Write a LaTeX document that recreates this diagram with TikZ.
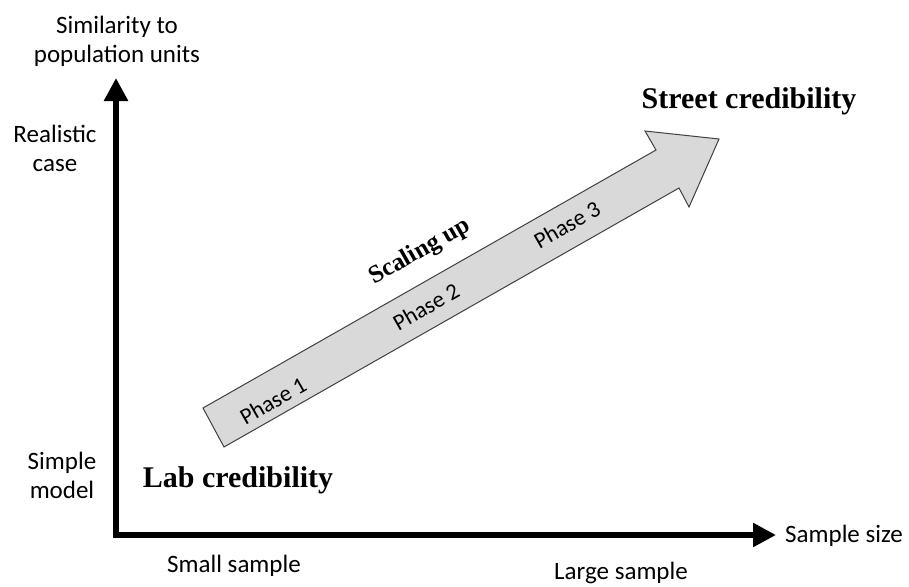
\documentclass[tikz,border=0pt]{standalone}
\usepackage{fontspec}
\setmainfont{Liberation Serif}
\newfontfamily\labelfont{Carlito}
\usetikzlibrary{arrows.meta}
\definecolor{shaftfill}{HTML}{D9D9D9}
\definecolor{shaftline}{HTML}{404040}
\tikzset{
  axis/.style={line width=5.5pt, line join=miter,
    {Triangle[length=23pt,width=23pt]}-{Triangle[length=23pt,width=23pt]}},
  sanslabel/.style={font=\labelfont\fontsize{25}{29}\selectfont, align=center, inner sep=0pt},
  phaselabel/.style={font=\labelfont\fontsize{23}{27}\selectfont, inner sep=0pt, rotate=29.7},
  credlabel/.style={font=\bfseries\fontsize{30}{34}\selectfont, inner sep=0pt},
  scalelabel/.style={font=\bfseries\fontsize{25}{29}\selectfont, inner sep=0pt, rotate=29.7},
  bigarrow/.style={draw=shaftline, line width=1pt, fill=shaftfill, line join=miter}
}
\begin{document}
\begin{tikzpicture}[x=1pt, y=-1pt]
  \useasboundingbox (0,0) rectangle (909,586);

  % axes
  \coordinate (ytop) at (116,78);
  \coordinate (origin) at (116,535);
  \coordinate (xend) at (776,535);
  \draw[axis] (ytop) -- (origin) -- (xend);

  % axis labels
  \node[sanslabel] (ytitle) at (117,41) {Similarity to\\population units};
  \node[sanslabel] (realistic) at (55,148) {Realistic\\case};
  \node[sanslabel] (simple) at (62,475) {Simple\\model};
  \node[sanslabel, anchor=west] (xtitle) at (785,536) {Sample size};
  \node[sanslabel] (small) at (234,566) {Small sample};
  \node[sanslabel] (large) at (621,573) {Large sample};

  % scaling-up block arrow
  \coordinate (t1) at (203,408);
  \coordinate (s1) at (656,150);
  \coordinate (b1) at (645,131);
  \coordinate (tip) at (719,139);
  \coordinate (b2) at (689,207);
  \coordinate (s2) at (679,188);
  \coordinate (t2) at (224,447);
  \draw[bigarrow] (t1) -- (s1) -- (b1) -- (tip) -- (b2) -- (s2) -- (t2) -- cycle;

  \node[phaselabel] (p1) at (273,401) {Phase 1};
  \node[phaselabel] (p2) at (426,307) {Phase 2};
  \node[phaselabel] (p3) at (567,225) {Phase 3};
  \node[scalelabel] (scaling) at (420,252) {Scaling up};

  % credibility labels
  \node[credlabel] (lab) at (238,480) {Lab credibility};
  \node[credlabel] (street) at (749,101) {Street credibility};
\end{tikzpicture}
\end{document}
